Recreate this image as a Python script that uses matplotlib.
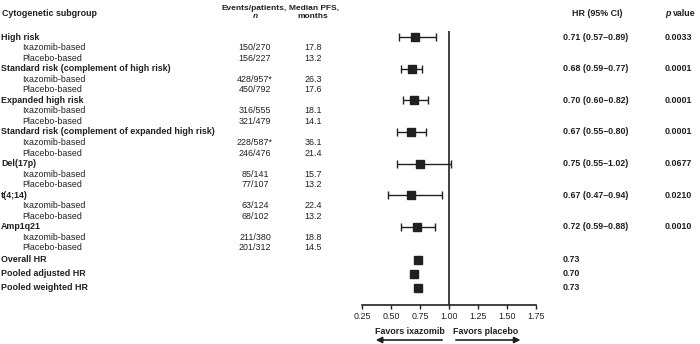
import matplotlib.pyplot as plt
import matplotlib.transforms as mtransforms

plt.rcParams['font.family'] = ['Liberation Sans', 'DejaVu Sans']

subgroups = ["High risk", "Standard risk (complement of high risk)", "Expanded high risk",
             "Standard risk (complement of expanded high risk)", "Del(17p)", "t(4;14)", "Amp1q21"]
ixa_events = ["150/270", "428/957*", "316/555", "228/587*", "85/141", "63/124", "211/380"]
pla_events = ["156/227", "450/792", "321/479", "246/476", "77/107", "68/102", "201/312"]
ixa_pfs = ["17.8", "26.3", "18.1", "36.1", "15.7", "22.4", "18.8"]
pla_pfs = ["13.2", "17.6", "14.1", "21.4", "13.2", "13.2", "14.5"]
hr = [0.71, 0.68, 0.70, 0.67, 0.75, 0.67, 0.72]
ci_lo = [0.57, 0.59, 0.60, 0.55, 0.55, 0.47, 0.59]
ci_hi = [0.89, 0.77, 0.82, 0.80, 1.02, 0.94, 0.88]
p_values = ["0.0033", "0.0001", "0.0001", "0.0001", "0.0677", "0.0210", "0.0010"]
pooled_labels = ["Overall HR", "Pooled adjusted HR", "Pooled weighted HR"]
pooled_hr = [0.73, 0.70, 0.73]
ticks = [0.25, 0.50, 0.75, 1.00, 1.25, 1.50, 1.75]

W, H = 700, 344
col = '#231f20'
fs = 6.4
hfs = 6.0

fig = plt.figure(figsize=(7, 3.44), dpi=100)
# forest axes, y in pixel-like units (top = 31, bottom = 305)
ax = fig.add_axes([362 / W, (H - 305) / H, 174 / W, (305 - 31) / H])
ax.set_xlim(0.25, 1.75)
ax.set_ylim(305, 31)
for s in ['top', 'right', 'left']:
    ax.spines[s].set_visible(False)
ax.spines['bottom'].set_linewidth(1.2)
ax.spines['bottom'].set_color(col)
ax.set_yticks([])
ax.set_xticks(ticks)
ax.set_xticklabels([f"{t:.2f}" for t in ticks], fontsize=fs, color=col)
ax.tick_params(axis='x', length=3, width=1, color=col, pad=2)
ax.axvline(1.0, color=col, lw=1.2)

tr = mtransforms.blended_transform_factory(fig.transFigure, ax.transData)

def fx(px):
    return px / W

# header
fig.text(fx(2), 1 - 14 / H, "Cytogenetic subgroup", fontsize=fs, weight='bold', color=col, va='center')
fig.text(fx(254), 1 - 8 / H, "Events/patients,", fontsize=hfs, weight='bold', color=col, va='center', ha='center')
fig.text(fx(255), 1 - 17 / H, "n", fontsize=hfs, weight='bold', style='italic', color=col, va='center', ha='center')
fig.text(fx(314), 1 - 8 / H, "Median PFS,", fontsize=hfs, weight='bold', color=col, va='center', ha='center')
fig.text(fx(313), 1 - 17 / H, "months", fontsize=hfs, weight='bold', color=col, va='center', ha='center')
fig.text(fx(597), 1 - 14 / H, "HR (95% CI)", fontsize=fs, weight='bold', color=col, va='center', ha='center')
fig.text(fx(665), 1 - 14 / H, "p", fontsize=fs, weight='bold', style='italic', color=col, va='center')
fig.text(fx(673), 1 - 14 / H, "value", fontsize=fs, weight='bold', color=col, va='center')

step = 10.55
for i, name in enumerate(subgroups):
    y0 = 37 + 3 * i * step
    ax.text(fx(1), y0, name, transform=tr, fontsize=fs, weight='bold', color=col, va='center')
    ax.text(fx(563), y0, f"{hr[i]:.2f} ({ci_lo[i]:.2f}\u2013{ci_hi[i]:.2f})", transform=tr,
            fontsize=fs, weight='bold', color=col, va='center')
    ax.text(fx(665), y0, p_values[i], transform=tr, fontsize=fs, weight='bold', color=col, va='center')
    for j, (lab, ev, pfs) in enumerate([("Ixazomib-based", ixa_events[i], ixa_pfs[i]),
                                        ("Placebo-based", pla_events[i], pla_pfs[i])]):
        y = y0 + (j + 1) * step
        ax.text(fx(22), y, lab, transform=tr, fontsize=fs, color=col, va='center')
        ax.text(fx(255), y, ev, transform=tr, fontsize=fs, color=col, va='center', ha='center')
        ax.text(fx(313), y, pfs, transform=tr, fontsize=fs, color=col, va='center', ha='center')
    ax.errorbar(hr[i], y0, xerr=[[hr[i] - ci_lo[i]], [ci_hi[i] - hr[i]]], fmt='s', color=col,
                ms=5.5, elinewidth=1, capsize=3, capthick=1)

for k, (lab, v) in enumerate(zip(pooled_labels, pooled_hr)):
    y = 260 + 14 * k
    ax.text(fx(1), y, lab, transform=tr, fontsize=fs, weight='bold', color=col, va='center')
    ax.text(fx(563), y, f"{v:.2f}", transform=tr, fontsize=fs, weight='bold', color=col, va='center')
    ax.plot(v, y, 's', color=col, ms=5.5)

ax.text(0.965, 331, "Favors ixazomib", fontsize=fs, weight='bold', color=col, va='center', ha='right')
ax.text(1.035, 331, "Favors placebo", fontsize=fs, weight='bold', color=col, va='center', ha='left')
ax.annotate("", xy=(0.345, 340), xytext=(0.965, 340), annotation_clip=False,
            arrowprops=dict(arrowstyle='-|>', color=col, lw=1.2, mutation_scale=9))
ax.annotate("", xy=(1.64, 340), xytext=(1.035, 340), annotation_clip=False,
            arrowprops=dict(arrowstyle='-|>', color=col, lw=1.2, mutation_scale=9))

fig.savefig("out.png", dpi=100)
